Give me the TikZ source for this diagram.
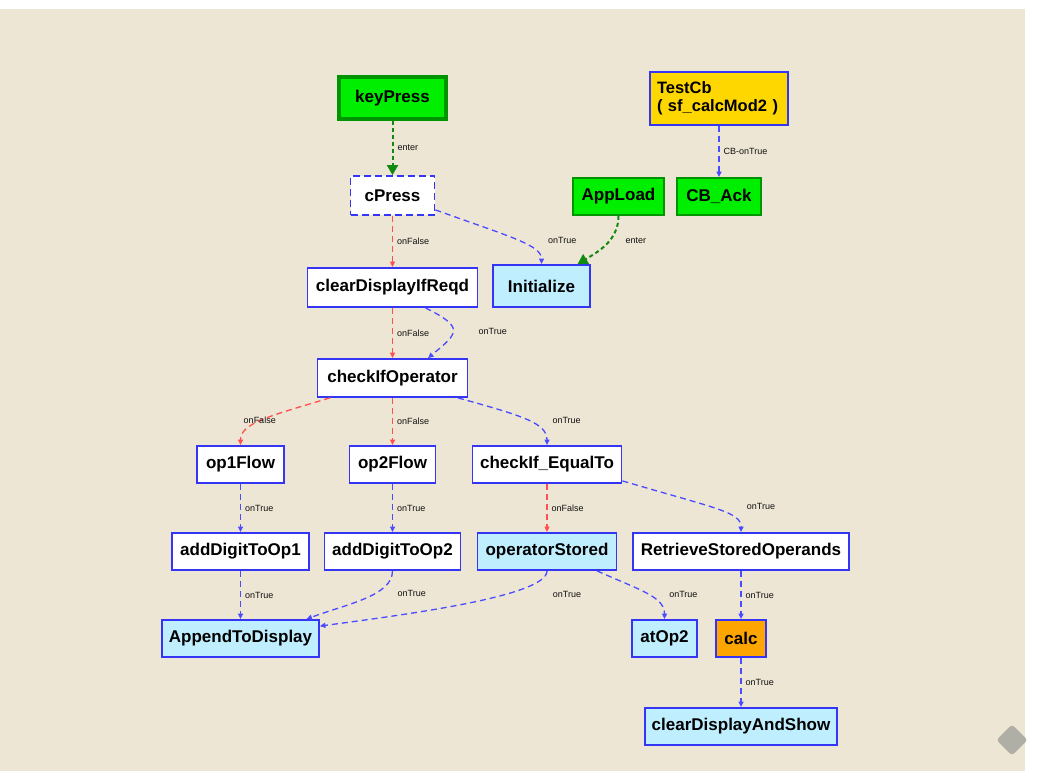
\documentclass[tikz,border=0pt]{standalone}
\usepackage{fontspec}
\setmainfont{Liberation Sans}
\usetikzlibrary{arrows.meta}
\definecolor{paper}{HTML}{EEE6D5}
\definecolor{edgeblue}{HTML}{4B4BFF}
\definecolor{boxblue}{HTML}{3535F5}
\definecolor{falsered}{HTML}{FF4F4F}
\definecolor{entergreen}{HTML}{108A10}
\definecolor{lime}{HTML}{00EE00}
\definecolor{darkgreen}{HTML}{009400}
\definecolor{pale}{HTML}{BFEFFF}
\definecolor{gold}{HTML}{FFD700}
\definecolor{calcorange}{HTML}{FFA500}
\definecolor{lbltext}{HTML}{111111}
\definecolor{logo}{HTML}{B0AFA6}

\begin{document}
\begin{tikzpicture}[x=1pt, y=1pt,
  box/.style={rectangle, draw=boxblue, fill=white, line width=1.8pt, minimum height=37pt, inner sep=0pt, text=black, font=\fontsize{17}{18}\selectfont\bfseries},
  pale box/.style={box, fill=pale},
  go box/.style={box, draw=darkgreen, fill=lime},
  arrow/.style={-{Triangle[length=5.5pt,width=5pt]}, edgeblue, line width=1.3pt, dash pattern=on 6pt off 4pt},
  false arrow/.style={arrow, falsered},
  enter arrow/.style={-{Triangle[length=10pt,width=11pt]}, entergreen, line width=2pt, dash pattern=on 4pt off 3pt},
  lbl/.style={font=\fontsize{9}{10}\selectfont, text=lbltext, inner sep=1pt, anchor=west, xshift=3pt},
]
  \useasboundingbox (0,0) rectangle (1037,781);
  \fill[paper] (0,10) rectangle (1025,772);
  \fill[logo, rounded corners=3pt, rotate around={45:(1012,41)}] (1001,30) rectangle (1023,52);

  % entry points
  \node[go box, minimum width=107pt, minimum height=42pt, line width=3.5pt] (keyPress) at (392.5,683) {keyPress};
  \node[box, fill=gold, line width=1.5pt, minimum width=138pt, minimum height=53pt, text width=124pt, align=left, font=\fontsize{16.5}{18}\selectfont\bfseries] (testCb) at (719,682.5) {TestCb\\( sf\_calcMod2 )};
  \node[box, dash pattern=on 7pt off 4pt, minimum width=84pt, minimum height=39pt] (cPress) at (392.5,585.5) {cPress};
  \node[go box, minimum width=91pt] (appLoad) at (618.5,584.5) {AppLoad};
  \node[go box, minimum width=84pt] (cbAck) at (719,584.5) {CB\_Ack};
  \node[box, minimum width=170pt, minimum height=39pt] (clearIfReqd) at (392.5,493.5) {clearDisplayIfReqd};
  \node[pale box, minimum width=97pt, minimum height=42pt] (init) at (541.5,495) {Initialize};
  \node[box, minimum width=150pt, minimum height=38pt] (checkOp) at (392.5,403) {checkIfOperator};

  % operator branches
  \node[box, minimum width=87pt] (op1) at (240.5,316.5) {op1Flow};
  \node[box, minimum width=86pt] (op2) at (392.5,316.5) {op2Flow};
  \node[box, minimum width=149pt] (checkEq) at (547,316.5) {checkIf\_EqualTo};
  \node[box, minimum width=137pt] (addOp1) at (240.5,229.5) {addDigitToOp1};
  \node[box, minimum width=136pt] (addOp2) at (392.5,229.5) {addDigitToOp2};
  \node[pale box, minimum width=139pt] (opStored) at (547,229.5) {operatorStored};
  \node[box, minimum width=216pt] (retrieve) at (741,229.5) {RetrieveStoredOperands};
  \node[pale box, minimum width=157pt] (append) at (240.5,142.5) {AppendToDisplay};
  \node[pale box, minimum width=65pt] (atOp2) at (664.5,142.5) {atOp2};
  \node[box, fill=calcorange, minimum width=50pt] (calc) at (741,142.5) {calc};
  \node[pale box, minimum width=192pt] (clearShow) at (741,54.5) {clearDisplayAndShow};

  % connectors
  \draw[enter arrow] (keyPress) -- node[lbl] {enter} (cPress);
  \draw[arrow] (testCb) -- node[lbl] {CB-onTrue} (cbAck);
  \draw[enter arrow] (appLoad.south) .. controls +(0,-25) and +(20,12) .. node[lbl, xshift=15pt, yshift=4pt] {enter} ([xshift=36pt]init.north);
  \draw[false arrow] (cPress) -- node[lbl] {onFalse} (clearIfReqd);
  \draw[arrow] ([yshift=6pt]cPress.south east) .. controls +(75,-27) and +(0,19) .. node[lbl, xshift=27pt] {onTrue} (init.north);
  \draw[false arrow] (clearIfReqd) -- node[lbl] {onFalse} (checkOp);
  \draw[arrow] ([xshift=33pt]clearIfReqd.south) .. controls +(40,-20) and +(30,25) .. node[lbl, xshift=21pt] {onTrue} ([xshift=35.5pt]checkOp.north);
  \draw[false arrow] ([xshift=-62.5pt]checkOp.south) .. controls +(-60,-18) and +(0,22) .. node[lbl, anchor=center, xshift=-6pt] {onFalse} (op1.north);
  \draw[false arrow] (checkOp) -- node[lbl] {onFalse} (op2);
  \draw[arrow] ([xshift=65.5pt]checkOp.south) .. controls +(65,-18) and +(0,22) .. node[lbl, xshift=21pt] {onTrue} (checkEq.north);
  \draw[arrow] (op1) -- node[lbl] {onTrue} (addOp1);
  \draw[arrow] (op2) -- node[lbl] {onTrue} (addOp2);
  \draw[false arrow] (checkEq) -- node[lbl] {onFalse} (opStored);
  \draw[arrow] ([yshift=3pt]checkEq.south east) .. controls +(95,-28) and +(0,20) .. node[lbl, xshift=25pt, yshift=3pt] {onTrue} (retrieve.north);
  \draw[arrow] (addOp1) -- node[lbl] {onTrue} (append);
  \draw[arrow] (addOp2.south) .. controls +(0,-25) and +(40,15) .. node[lbl, xshift=28.5pt, yshift=5pt] {onTrue} ([xshift=66pt]append.north);
  \draw[arrow] (opStored.south) .. controls +(0,-25) and +(90,12) .. node[lbl, xshift=81pt, yshift=9pt] {onTrue} ([yshift=-7pt]append.north east);
  \draw[arrow] ([xshift=50pt]opStored.south) .. controls +(45,-20) and +(0,22) .. node[lbl, xshift=17pt] {onTrue} (atOp2.north);
  \draw[arrow] (retrieve) -- node[lbl] {onTrue} (calc);
  \draw[arrow] (calc) -- node[lbl] {onTrue} (clearShow);
\end{tikzpicture}
\end{document}
